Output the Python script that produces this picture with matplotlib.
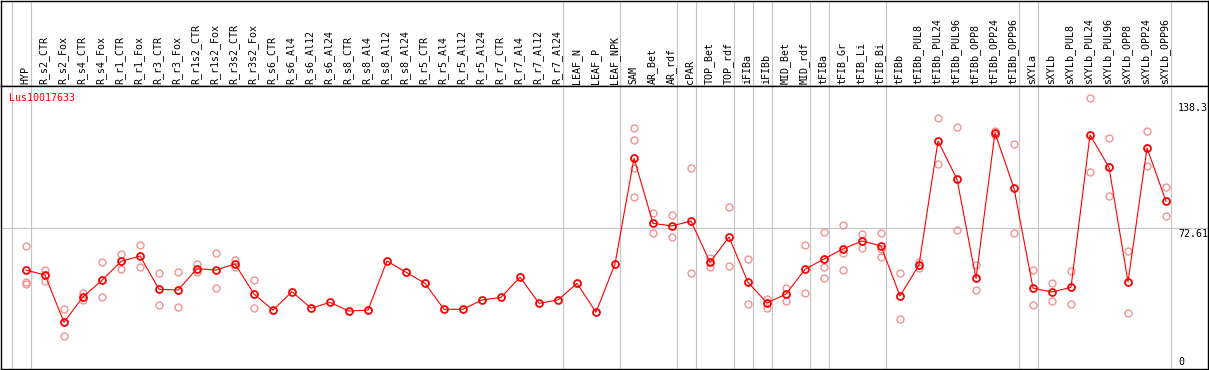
"""
Lus10017633 발현 프로파일 (샘플별 평균 + 반복 측정값).
"""

import matplotlib

matplotlib.use("Agg")
import matplotlib.pyplot as plt
from matplotlib import transforms

GENE_ID = "Lus10017633"

SAMPLES = [
    "HYP", "R_s2_CTR", "R_s2_Fox", "R_s4_CTR", "R_s4_Fox", "R_r1_CTR", "R_r1_Fox",
    "R_r3_CTR", "R_r3_Fox", "R_r1s2_CTR", "R_r1s2_Fox", "R_r3s2_CTR", "R_r3s2_Fox",
    "R_s6_CTR", "R_s6_Al4", "R_s6_Al12", "R_s6_Al24", "R_s8_CTR", "R_s8_Al4",
    "R_s8_Al12", "R_s8_Al24", "R_r5_CTR", "R_r5_Al4", "R_r5_Al12", "R_r5_Al24",
    "R_r7_CTR", "R_r7_Al4", "R_r7_Al12", "R_r7_Al24", "LEAF_N", "LEAF_P", "LEAF_NPK",
    "SAM", "AR_Bet", "AR_rdf", "cPAR", "TOP_Bet", "TOP_rdf", "iFIBa", "iFIBb",
    "MID_Bet", "MID_rdf", "tFIBa", "tFIB_Gr", "tFIB_Li", "tFIB_Bi", "tFIBb",
    "tFIBb_PUL8", "tFIBb_PUL24", "tFIBb_PUL96", "tFIBb_OPP8", "tFIBb_OPP24",
    "tFIBb_OPP96", "sXYLa", "sXYLb", "sXYLb_PUL8", "sXYLb_PUL24", "sXYLb_PUL96",
    "sXYLb_OPP8", "sXYLb_OPP24", "sXYLb_OPP96",
]

MEANS = [
    51.5, 49.0, 25.1, 38.0, 46.3, 55.9, 58.6, 41.8, 41.4, 52.2, 51.5, 54.6, 39.4,
    31.3, 40.6, 32.2, 35.2, 30.8, 31.3, 56.1, 50.4, 44.8, 31.7, 31.7, 36.4, 37.7,
    47.9, 34.7, 36.4, 44.8, 30.2, 54.6,
    108.0, 75.1, 73.8, 76.3, 55.4, 68.2, 45.3, 34.9, 39.4, 51.9, 57.1, 62.2, 66.2, 63.7,
    38.4, 54.1, 116.7, 97.4, 47.3, 120.8, 92.8, 42.4, 40.4, 42.8, 119.8, 103.4,
    45.5, 113.2, 86.3,
]

REPLICATES = [
    [63.5, 45.3, 44.5], [51.5, 46.1], [31.7, 18.0], [40.1, 36.4], [55.4, 37.7],
    [59.6, 51.9], [64.2, 53.1], [50.0, 33.9], [50.5, 32.7], [54.6, 50.5],
    [60.1, 42.4], [56.6, 53.2], [46.5, 32.2],
    [], [], [], [], [], [], [], [], [], [], [], [], [], [], [], [], [], [], [],
    [123.1, 117.1, 102.9, 88.3], [80.3, 70.1], [79.2, 68.1], [102.9, 49.9],
    [57.8, 52.9], [83.4, 53.6], [56.9, 34.2], [37.0, 32.3], [42.4, 35.7],
    [64.0, 39.9], [70.6, 52.9, 47.3], [74.1, 60.1, 51.4], [69.7, 62.5],
    [70.1, 62.0, 58.0], [50.0, 26.6], [55.5, 52.7], [128.2, 105.1], [123.6, 71.8],
    [53.9, 41.3], [121.8, 119.8], [115.1, 70.1], [51.4, 33.9], [45.0, 35.9],
    [51.0, 34.2], [138.3, 100.9], [118.1, 88.9], [61.0, 29.7], [121.6, 103.9],
    [93.3, 78.7],
]

# 그룹 경계 (해당 인덱스 컬럼 뒤에 세로선)
GROUP_ENDS = [-1, 0, 28, 31, 34, 35, 37, 38, 39, 41, 42, 45, 52, 53, 60]

Y_LABELS = [138.3, 72.61, 0]
GRID_VALUE = 72.61

MEAN_COLOR = "#ff0000"
REP_COLOR = "#f09494"
GRID_COLOR = "#c4c4c4"
MONO = "DejaVu Sans Mono"

W, H = 1209, 370
X_LIM = (-1.316, 62.21)
Y_LIM = (1.52, 144.5)


def draw_header(fig: plt.Figure) -> plt.Axes:
    hax = fig.add_axes([1 / W, (H - 86) / H, 1207 / W, 85.5 / H])
    hax.set_xlim(*X_LIM)
    hax.set_ylim(0, 1)
    hax.set_xticks([])
    hax.set_yticks([])
    for spine in hax.spines.values():
        spine.set_linewidth(1.0)
    for end in GROUP_ENDS:
        hax.axvline(end + 0.25, color=GRID_COLOR, linewidth=0.8, zorder=0)
    trans = transforms.blended_transform_factory(hax.transData, hax.transAxes)
    for i, name in enumerate(SAMPLES):
        hax.text(i - 0.05, 0.025, name, rotation=90, ha="center", va="bottom",
                 fontsize=7.2, family=MONO, transform=trans)
    return hax


def draw_profile(fig: plt.Figure) -> plt.Axes:
    ax = fig.add_axes([1 / W, (H - 369) / H, 1207 / W, 283 / H])
    ax.set_xlim(*X_LIM)
    ax.set_ylim(*Y_LIM)
    ax.set_xticks([])
    ax.set_yticks([])
    for spine in ax.spines.values():
        spine.set_linewidth(1.0)

    for end in GROUP_ENDS:
        ax.axvline(end + 0.25, color=GRID_COLOR, linewidth=0.8, zorder=0)
    ax.axhline(GRID_VALUE, color=GRID_COLOR, linewidth=0.8, zorder=0)

    rep_x = [i for i, reps in enumerate(REPLICATES) for _ in reps]
    rep_y = [v for reps in REPLICATES for v in reps]
    ax.plot(rep_x, rep_y, linestyle="none", marker="o", markersize=5,
            markerfacecolor="none", markeredgecolor=REP_COLOR, markeredgewidth=1.0,
            zorder=2)

    ax.plot(range(len(MEANS)), MEANS, color=MEAN_COLOR, linewidth=0.8,
            marker="o", markersize=5, markerfacecolor="none",
            markeredgecolor=MEAN_COLOR, markeredgewidth=1.3, zorder=3)

    ax.text(0.0069, 0.975, GENE_ID, color=MEAN_COLOR, fontsize=7.2, family=MONO,
            ha="left", va="top", transform=ax.transAxes)

    trans = transforms.blended_transform_factory(ax.transAxes, ax.transData)
    label_x = (1178 - 1) / 1207
    offsets = {138.3: -3.5, 72.61: -0.5}
    for value in Y_LABELS:
        if value == 0:
            ax.text(label_x, 0.006, "0", fontsize=7.2, family=MONO,
                    ha="left", va="bottom", transform=ax.transAxes)
            continue
        ax.annotate(f"{value:g}", xy=(label_x, value), xycoords=trans,
                    xytext=(0, offsets[value]), textcoords="offset points",
                    fontsize=7.2, family=MONO, ha="left", va="top")
    return ax


def main() -> None:
    fig = plt.figure(figsize=(W / 100, H / 100), dpi=100)
    fig.patch.set_facecolor("white")
    draw_header(fig)
    draw_profile(fig)
    fig.savefig("out.png", dpi=100)
    plt.close(fig)


if __name__ == "__main__":
    main()
